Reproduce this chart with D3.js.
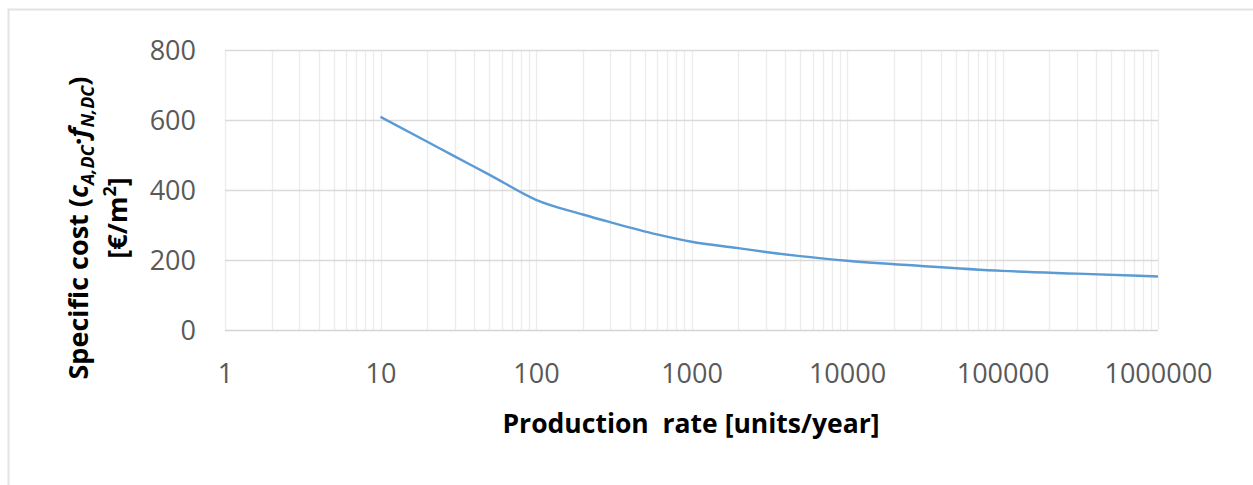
<!DOCTYPE html>
<html><head><meta charset="utf-8">
<script src="https://cdn.jsdelivr.net/npm/d3@7"></script>
<style>
html,body{margin:0;padding:0;background:#fff;}
svg{display:block;}
</style></head>
<body>
<svg id="chart" width="1253" height="485"></svg>
<script>
const productionRate = [10,20,30,50,100,200,300,600,1000,2000,3000,5000,10000,30000,100000,300000,1000000];
const specificCost   = [609,538,496,444,372,330,308,273,252,234,223,211,198,183,169,161,153];
const xTickValues = [1,10,100,1000,10000,100000,1000000];
const xTickLabels = ["1","10","100","1000","10000","100000","1000000"];
const yTickValues = [0,200,400,600,800];

const svg = d3.select("#chart");

// chart border
svg.append("rect").attr("x",8.5).attr("y",9.5).attr("width",1260).attr("height",500)
  .attr("fill","#fff").attr("stroke","#e3e3e3").attr("stroke-width",2);

const x = d3.scaleLog().domain([1,1000000]).range([225,1158]);
const y = d3.scaleLinear().domain([0,800]).range([330,50]);

// minor vertical gridlines
const minor = [];
for (let d=1; d<1000000; d*=10) for (let k=1;k<=10;k++) minor.push(d*k);
svg.append("g").selectAll("line").data(Array.from(new Set(minor))).join("line")
  .attr("x1",d=>Math.round(x(d))+0.5).attr("x2",d=>Math.round(x(d))+0.5)
  .attr("y1",y(800)).attr("y2",y(0))
  .attr("stroke","#ececec").attr("stroke-width",1.3);

// horizontal gridlines
svg.append("g").selectAll("line").data(yTickValues).join("line")
  .attr("x1",x(1)).attr("x2",x(1000000))
  .attr("y1",d=>Math.round(y(d))+0.5).attr("y2",d=>Math.round(y(d))+0.5)
  .attr("stroke",d=>d===0?"#d4d4d4":"#dadada").attr("stroke-width",d=>d===0?1.5:1.3);

const font = "'Open Sans', 'Liberation Sans', sans-serif";
const yAxis = svg.append("g").attr("transform","translate(196,0)")
  .call(d3.axisLeft(y).tickValues(yTickValues).tickSize(0).tickPadding(0));
yAxis.select(".domain").remove();
yAxis.selectAll("text").attr("font-family",font).attr("font-size",27).attr("fill","#595959").attr("dy","0.36em");

const xAxis = svg.append("g").attr("transform","translate(0,383)")
  .call(d3.axisBottom(x).tickValues(xTickValues).tickFormat((d,i)=>xTickLabels[i]).tickSize(0).tickPadding(0));
xAxis.select(".domain").remove();
xAxis.selectAll("text").attr("font-family",font).attr("font-size",27).attr("fill","#595959").attr("dy","0").attr("y",0);

// line
const data = productionRate.map((v,i)=>({x:v,y:specificCost[i]}));
svg.append("path").datum(data)
  .attr("fill","none").attr("stroke","#5b9bd5").attr("stroke-width",2.4)
  .attr("d", d3.line().x(d=>x(d.x)).y(d=>y(d.y)).curve(d3.curveMonotoneX));

// x title
svg.append("text").attr("x",691).attr("y",433).attr("text-anchor","middle")
  .attr("font-family",font).attr("font-weight","bold").attr("font-size",26.5).attr("fill","#000")
  .attr("xml:space","preserve")
  .text("Production  rate [units/year]");

// y title
const yt = svg.append("text").attr("transform","translate(88,228) rotate(-90)")
  .attr("text-anchor","middle").attr("font-family",font).attr("font-weight","bold")
  .attr("font-size",27).attr("fill","#000");
yt.append("tspan").text("Specific cost (");
yt.append("tspan").attr("font-style","italic").text("c");
yt.append("tspan").attr("font-style","italic").attr("font-size",18).attr("dy",6).text("A,DC");
yt.append("tspan").attr("dy",-6).text("·");
yt.append("tspan").attr("font-style","italic").text("f");
yt.append("tspan").attr("font-style","italic").attr("font-size",18).attr("dy",6).text("N,DC");
yt.append("tspan").attr("dy",-6).text(")");

const yt2 = svg.append("text").attr("transform","translate(127,218) rotate(-90)")
  .attr("text-anchor","middle").attr("font-family",font).attr("font-weight","bold")
  .attr("font-size",27).attr("fill","#000");
yt2.append("tspan").text("[€/m");
yt2.append("tspan").attr("font-size",18).attr("dy",-11).text("2");
yt2.append("tspan").attr("dy",11).text("]");
</script>
</body></html>
